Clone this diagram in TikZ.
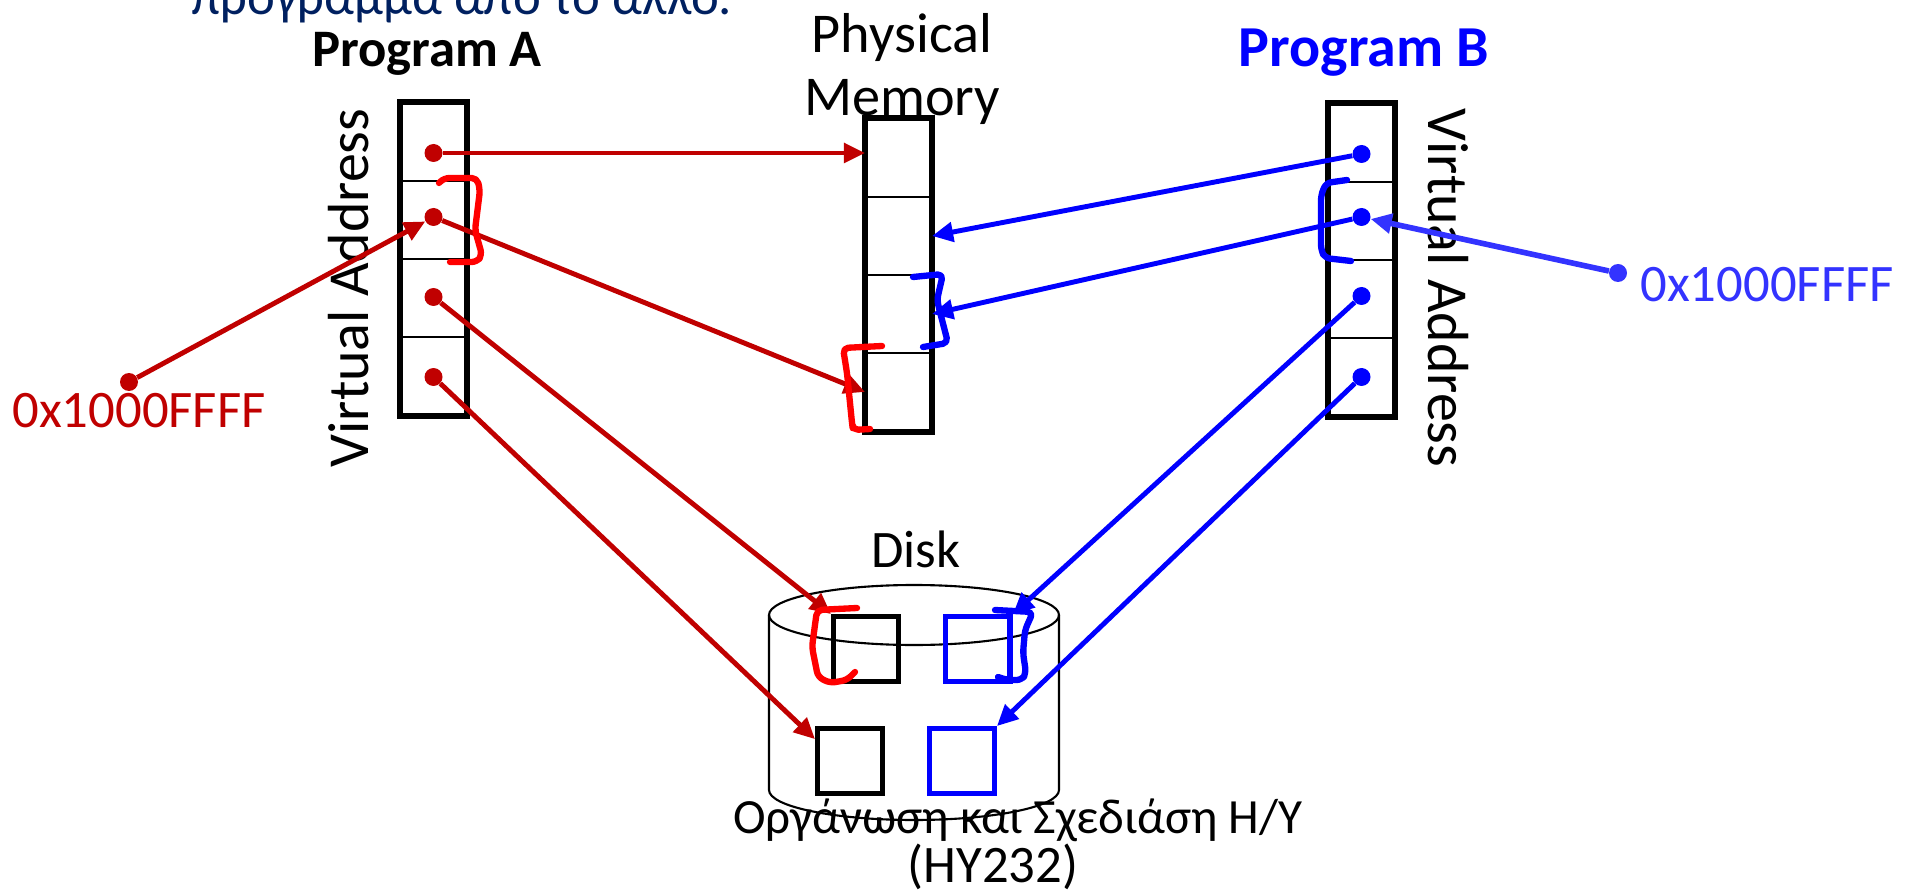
\documentclass[tikz,border=0pt]{standalone}
\usepackage{fontspec}
\setmainfont{Carlito}
\usetikzlibrary{arrows.meta}
\definecolor{darkred}{RGB}{192,0,0}
\definecolor{penred}{RGB}{255,0,0}
\definecolor{pblue}{RGB}{0,0,255}
\definecolor{lblue}{RGB}{51,51,255}
\definecolor{navy}{RGB}{0,32,96}

\begin{document}
\begin{tikzpicture}[
        x=0.02cm, y=-0.02cm,
        >={Triangle[length=12pt, width=11pt]},
        every node/.style={font=\fontsize{30}{36}\selectfont},
        big/.style={font=\fontsize{33}{36}\selectfont},
        cell/.style={draw, line width=1.2pt, minimum width=1.3cm, minimum height=1.56cm, inner sep=0pt},
        frame/.style={line width=3.4pt},
        sq/.style={draw, line width=2.8pt, minimum size=1.3cm, inner sep=0pt},
        dot/.style={circle, fill, inner sep=0pt, minimum size=0.36cm},
        redline/.style={darkred, line width=2.8pt, ->},
        blueline/.style={pblue, line width=2.8pt, ->},
        scribble/.style={line width=3.6pt, line cap=round, line join=round, rounded corners=3pt}
    ]
        \useasboundingbox (0,0) rectangle (1912,891);

        % Dòng tiêu đề bị cắt
        \node[navy, anchor=base west] (title) at (185,15) {πρόγραμμα από το άλλο.};

        % Chương trình A
        \node[font=\fontsize{30}{36}\selectfont\bfseries, anchor=base] (progA) at (427,67) {Program A};
        \foreach \i/\y in {1/142,2/220,3/298,4/376}
            \node[cell] (A\i) at (433.5,\y) {};
        \draw[frame] (A1.north west) rectangle (A4.south east);
        \foreach \i/\y in {1/153,2/217,3/297,4/377}
            \node[dot, darkred] (dA\i) at (433.5,\y) {};
        \node[big, rotate=90] (vaA) at (349,288) {Virtual Address};

        % Bộ nhớ vật lý
        \node[font=\fontsize{32}{36}\selectfont, align=center, anchor=north, inner sep=0pt] (memlbl) at (902,13) {Physical\\Memory};
        \foreach \i/\y in {1/158,2/236,3/314,4/392}
            \node[cell] (M\i) at (898.5,\y) {};
        \draw[frame] (M1.north west) rectangle (M4.south east);

        % Chương trình B
        \node[pblue, font=\fontsize{33}{36}\selectfont\bfseries, anchor=base] (progB) at (1364,67) {Program B};
        \foreach \i/\y in {1/143,2/221,3/299,4/377}
            \node[cell] (B\i) at (1361.5,\y) {};
        \draw[frame] (B1.north west) rectangle (B4.south east);
        \foreach \i/\y in {1/154,2/217,3/296,4/377}
            \node[dot, pblue] (dB\i) at (1361.5,\y) {};
        \node[big, rotate=-90] (vaB) at (1448,288) {Virtual Address};

        % Đĩa
        \node[anchor=base] (disk) at (916,567) {Disk};
        \draw[line width=1.2pt] (914,615) ellipse [x radius=145, y radius=30];
        \draw[line width=1.2pt] (769,615) -- (769,790) arc[start angle=180, end angle=0, x radius=145, y radius=30] -- (1059,615);
        \node[sq] (DK1) at (866,649) {};
        \node[sq, pblue] (DK2) at (978,649) {};
        \node[sq] (DK3) at (850,761) {};
        \node[sq, pblue] (DK4) at (962,761) {};

        % Địa chỉ
        \node[darkred, anchor=west, inner sep=0pt] (addrA) at (12,411) {0x1000FFFF};
        \node[dot, darkred] (pA) at (129,382) {};
        \node[lblue, anchor=west, inner sep=0pt] (addrB) at (1640,285) {0x1000FFFF};
        \node[dot, lblue] (pB) at (1618,273) {};

        \node[anchor=base, font=\fontsize{28}{28}\selectfont] (course) at (1018,833) {Οργάνωση και Σχεδιάση Η/Υ};
        \node[anchor=base, font=\fontsize{30}{30}\selectfont] (code) at (993,882) {(ΗΥ232)};

        % Các mũi tên
        \draw[redline] (dA1) -- (dA1 -| M1.west);
        \draw[redline] (dA2) -- (M4.west);
        \draw[redline] (dA3) -- (DK1.north west);
        \draw[redline] (dA4) -- (DK3.148);
        \draw[redline] (pA) -- (dA2);
        \draw[blueline] (dB1) -- (M2.east);
        \draw[blueline] (dB2) -- (M3.east);
        \draw[blueline] (dB3) -- (DK2.north east);
        \draw[blueline] (dB4) -- (DK4.north east);
        \draw[blueline, lblue, line width=3.2pt] (pB) -- (dB2);

        % Nét vẽ tay
        \draw[scribble, penred] (439,183) -- (444,178) -- (477,178) -- (480,190) -- (475,230) -- (482,255) -- (477,262) -- (450,262);
        \draw[scribble, penred] (882,346) -- (843,348) -- (847,373) -- (852,423) -- (853,430) -- (870,429);
        \draw[scribble, pblue] (913,277) -- (943,274) -- (937,300) -- (940,312) -- (948,343) -- (923,347);
        \draw[scribble, pblue] (1347,180) -- (1326,183) -- (1321,195) -- (1321,250) -- (1325,258) -- (1351,261);
        \draw[scribble, penred] (857,608) -- (817,610) -- (812,647) -- (818,677) -- (830,683) -- (847,680) -- (855,672);
        \draw[scribble, pblue] (995,610) -- (1033,612) -- (1025,630) -- (1023,653) -- (1026,673) -- (1022,680) -- (1007,680) -- (998,677);
        \draw[scribble, pblue] (1010,612) -- (1010,680);
    \end{tikzpicture}
\end{document}
